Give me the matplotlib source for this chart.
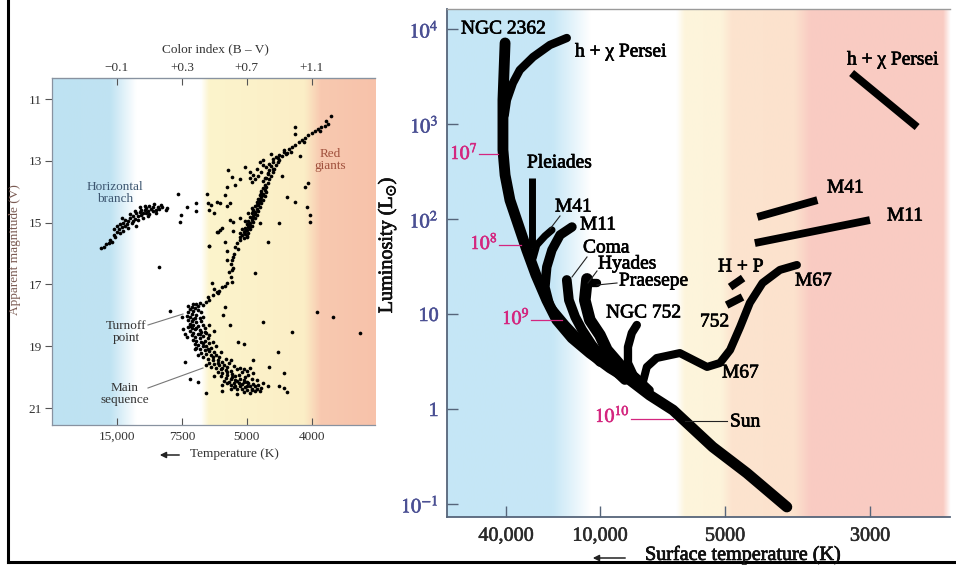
import numpy as np
import matplotlib
matplotlib.use('Agg')
import matplotlib.pyplot as plt
import matplotlib.patheffects as pe
from matplotlib.colors import to_rgb
from matplotlib.patches import FancyArrowPatch
from matplotlib.lines import Line2D

plt.rcParams['font.family'] = ['Liberation Serif', 'DejaVu Serif']
plt.rcParams['mathtext.fontset'] = 'stix'

# ---------------- Left panel data: globular cluster (B-V, V) ----------------
hb_pts = [(-0.20,15.82),(-0.18,15.78),(-0.17,15.70),(-0.15,15.65),(-0.14,15.55),(-0.13,15.62),
          (-0.12,15.40),(-0.11,15.48),(-0.10,15.30),(-0.09,15.20),(-0.08,15.35),(-0.08,15.05),
          (-0.07,15.15),(-0.06,15.00),(-0.06,15.28),(-0.05,15.10),(-0.05,14.92),(-0.04,15.05),
          (-0.03,14.95),(-0.03,15.18),(-0.02,14.85),(-0.01,15.00),(0.00,14.80),(0.00,14.95),
          (0.01,14.88),(0.02,14.70),(0.02,15.10),(0.03,14.78),(0.03,14.92),(0.04,14.65),
          (0.05,14.75),(0.05,14.58),(0.06,14.70),(0.06,14.85),(0.07,14.60),(0.08,14.52),
          (0.08,14.68),(0.09,14.62),(0.10,14.45),(0.10,14.72),(0.11,14.55),(0.12,14.50),
          (0.12,14.64),(0.13,14.40),(0.14,14.58),(0.15,14.48),(0.16,14.55),(0.17,14.42),
          (0.18,14.50),(0.20,14.60),(0.21,14.52),(-0.12,15.22),(-0.10,15.12),(-0.07,14.85),
          (0.04,14.50),(0.09,14.80),(0.14,14.70),(0.01,14.62),(0.07,14.45),(-0.02,14.72)]

rgb_pts = [(0.68,15.50),(0.70,15.45),(0.67,15.40),(0.69,15.38),(0.71,15.35),(0.68,15.30),(0.70,15.25),
           (0.72,15.22),(0.69,15.18),(0.71,15.15),(0.73,15.10),(0.70,15.05),(0.72,15.02),(0.74,14.98),
           (0.71,14.95),(0.73,14.90),(0.75,14.86),(0.72,14.82),(0.74,14.78),(0.76,14.75),(0.73,14.70),
           (0.75,14.66),(0.77,14.62),(0.74,14.58),(0.76,14.55),(0.78,14.50),(0.75,14.46),(0.77,14.42),
           (0.79,14.38),(0.76,14.34),(0.78,14.30),(0.80,14.26),(0.77,14.22),(0.79,14.18),(0.81,14.14),
           (0.78,14.10),(0.80,14.06),(0.82,14.02),(0.79,13.98),(0.81,13.94),(0.80,13.88),(0.82,13.84),
           (0.81,13.78),(0.83,13.72),(0.80,13.66),(0.84,13.60),(0.82,13.55),(0.85,13.48),(0.83,13.42),
           (0.86,13.36),(0.84,13.30),(0.87,13.25),(0.85,13.18),(0.88,13.12),(0.86,13.05),(0.90,12.98),
           (0.89,12.90),(0.92,12.85),(0.94,12.78),(0.93,12.70),(0.96,12.62),(0.98,12.55),(1.00,12.48),
           (1.02,12.40),(1.04,12.32),(1.06,12.25),(1.08,12.18),(1.10,12.10),(1.12,12.05),(1.14,11.98),
           (1.16,11.92),(1.18,11.86),(1.20,11.80),(1.22,11.55),(1.19,11.72),(1.15,12.05),(1.05,12.38),
           (0.97,12.70),(0.69,15.28),(0.71,15.08),(0.73,14.84),(0.74,14.64),(0.76,14.44),(0.78,14.24),
           (0.79,14.04),(0.70,15.42),(0.72,15.12),(0.75,14.72),(0.77,14.36),(0.80,14.12),(0.66,15.45),
           (0.67,15.20),(0.69,14.95),(0.71,14.70),(0.73,14.52)]

agb_pts = [(0.78,13.05),(0.80,13.15),(0.76,13.25),(0.79,13.35),(0.82,13.20),(0.84,13.10),(0.86,12.95),
           (0.83,13.40),(0.77,13.50),(0.74,13.45),(0.88,12.88),(0.90,12.80),(0.86,13.25),(0.81,13.55),
           (0.75,13.60),(0.73,13.70),(0.72,13.55),(0.85,12.78),(0.93,12.65),(0.95,12.75),(0.89,13.05),
           (0.80,12.98),(0.92,13.50)]

sgb_pts = [(0.41,17.60),(0.45,17.58),(0.47,17.50),(0.49,17.34),(0.52,17.28),(0.515,17.25),(0.485,16.95),
           (0.53,17.20),(0.55,17.10),(0.565,17.05),(0.577,16.95),(0.60,16.76),(0.61,16.92),(0.61,16.53),
           (0.615,16.47),(0.61,16.21),(0.615,16.10),(0.577,15.92),(0.64,15.67),(0.645,15.86),(0.657,15.56),
           (0.66,15.34),(0.615,15.27),(0.565,15.63),(0.47,15.76),(0.52,15.30),(0.55,15.18),(0.565,17.73),
           (0.553,17.99),(0.595,18.31),(0.43,17.68),(0.39,17.62),(0.46,17.40),(0.50,17.15),(0.59,16.60),
           (0.60,16.35),(0.62,16.00),(0.63,15.80)]

ms_pts = [(0.34,17.70),(0.36,17.72),(0.38,17.75),(0.35,17.80),(0.37,17.85),(0.40,17.82),(0.34,17.90),
          (0.36,17.95),(0.39,17.98),(0.33,18.02),(0.35,18.06),(0.38,18.10),(0.41,18.08),(0.34,18.15),
          (0.36,18.20),(0.39,18.22),(0.42,18.18),(0.35,18.28),(0.37,18.32),(0.40,18.35),(0.43,18.30),
          (0.34,18.38),(0.36,18.42),(0.38,18.45),(0.41,18.48),(0.44,18.42),(0.35,18.52),(0.37,18.56),
          (0.40,18.60),(0.42,18.55),(0.45,18.58),(0.36,18.65),(0.38,18.70),(0.41,18.72),(0.43,18.68),
          (0.46,18.75),(0.37,18.80),(0.39,18.84),(0.42,18.86),(0.44,18.82),(0.47,18.90),(0.38,18.92),
          (0.40,18.96),(0.43,19.00),(0.45,18.98),(0.48,19.05),(0.39,19.05),(0.41,19.10),(0.44,19.12),
          (0.47,19.15),(0.50,19.18),(0.42,19.22),(0.45,19.26),(0.48,19.30),(0.51,19.28),(0.53,19.35),
          (0.43,19.35),(0.46,19.40),(0.49,19.44),(0.52,19.46),(0.55,19.50),(0.47,19.55),(0.50,19.58),
          (0.53,19.62),(0.56,19.60),(0.58,19.66),(0.48,19.68),(0.51,19.72),(0.54,19.75),(0.57,19.78),
          (0.60,19.80),(0.52,19.85),(0.55,19.88),(0.58,19.92),(0.61,19.90),(0.63,19.95),(0.54,19.98),
          (0.57,20.02),(0.60,20.05),(0.63,20.08),(0.66,20.05),(0.56,20.12),(0.59,20.15),(0.62,20.18),
          (0.65,20.20),(0.68,20.16),(0.60,20.25),(0.63,20.28),(0.66,20.30),(0.69,20.32),(0.72,20.28),
          (0.64,20.38),(0.67,20.40),(0.70,20.42),(0.73,20.38),(0.76,20.40),(0.68,20.48),(0.72,20.50),
          (0.75,20.46),(0.78,20.44),(0.66,19.70),(0.68,19.75),(0.70,19.80),(0.72,19.72),(0.67,19.85),
          (0.71,19.92),(0.74,19.88),(0.69,20.00),(0.73,20.05),(0.76,20.10),(0.70,20.15),(0.74,20.22),
          (0.77,20.25),(0.79,20.35),(0.80,20.20),(0.62,19.65),(0.64,19.75),(0.59,19.55),(0.44,18.55),
          (0.47,18.65),(0.49,18.85),(0.51,19.00),(0.54,19.20),(0.57,19.40),(0.60,19.45),(0.31,18.45),
          (0.30,18.05),(0.32,18.60),(0.33,18.70),(0.38,19.10),(0.40,19.30),(0.45,19.60),(0.50,19.95),
          (0.55,20.25),(0.60,20.40),(0.35,20.05),(0.40,20.15),(0.45,20.50),(0.55,20.45),(0.64,20.55),
          (0.47,18.30),(0.50,18.50),(0.43,18.05),(0.37,17.65),(0.40,17.70),(0.42,17.90),
          (0.35,18.35),(0.37,18.12),(0.39,18.40),(0.41,18.62),(0.43,18.90),(0.46,19.08),(0.49,19.36),
          (0.52,19.55),(0.55,19.70),(0.58,19.85),(0.61,20.00),(0.64,20.12),(0.67,20.22),(0.70,20.30),
          (0.73,20.42),(0.65,19.92),(0.68,20.08),(0.71,20.20),(0.75,20.30),(0.62,20.32),(0.58,20.20)]

field_pts = [(0.275,14.07),(0.294,14.75),(0.33,14.50),(0.386,14.37),(0.386,14.62),(0.454,14.07),
             (0.46,14.37),(0.48,14.43),(0.50,14.69),(0.515,14.33),(0.565,14.10),(0.577,14.46),
             (0.515,15.30),(0.29,14.98),(0.16,16.44),(0.23,17.86),(0.32,19.50),(0.585,13.30),
             (0.61,13.52),(0.625,13.78),(0.577,13.85),(0.595,14.37),(0.534,14.37),(0.47,14.60),
             (0.595,14.92),(0.615,14.98),(0.657,14.86),(0.534,15.24),(0.466,15.76),(0.577,16.21),
             (0.75,16.63),(0.83,15.63),(0.78,15.00),(1.09,14.98),(1.09,14.75),(1.07,14.50),(1.00,14.33),
             (0.95,14.17),(1.06,13.85),(1.08,13.72),(0.90,15.00),(1.00,11.90),(1.00,12.13),(1.03,12.85),
             (1.13,17.90),(1.23,18.05),(1.40,18.57),(0.80,18.22),(0.98,18.54),(0.89,19.19),(0.93,19.87),
             (0.835,19.67),(0.645,18.86),(0.68,18.93),(0.74,19.45),(0.90,20.28),(0.93,20.35),(0.95,20.48),
             (0.83,20.28),(0.69,13.20),(0.72,13.35),(0.66,13.60)]

bv_ticks = [-0.1, 0.3, 0.7, 1.1]
bv_labels = ['\u22120.1', '+0.3', '+0.7', '+1.1']
temp_labels_left = ['15,000', '7500', '5000', '4000']
mag_ticks = [11, 13, 15, 17, 19, 21]

# ---------------- Right panel data: cluster sequences (T [K], L [Lsun]) ----------------
zams_T = [40500, 41800, 41800, 40500, 37700, 29400, 25700, 21900, 18900, 15100, 11600, 9460, 8470, 7590, 6670, 5350, 4630, 4020]
zams_L = [7130, 1790, 532, 290, 158, 47.2, 25.8, 14.0, 8.65, 5.59, 3.88, 2.71, 2.02, 1.40, 0.975, 0.398, 0.212, 0.093]

hchi_T = [16300, 20900, 26800, 32600, 36100, 39400, 40700]
hchi_L = [8040, 6790, 5070, 3700, 2700, 1790, 1245]

pleiades_T = [27300, 27300]
pleiades_L = [270, 50]

m41_T = [20300, 22500, 25400, 26800]
m41_L = [76.6, 66.2, 53.2, 38.8]

m11_T = [15100, 18000, 20300, 21900, 22500, 20900, 16700, 13040, 10000]
m11_L = [82.4, 67.9, 47.2, 31.2, 19.2, 11.9, 7.66, 4.95, 3.12]

coma_T = [16300, 15800, 14400, 13000, 11250, 9680, 8710]
coma_L = [22.8, 14.0, 9.29, 6.79, 4.72, 3.12, 2.02]

hyades_T = [12100, 12500, 11600, 10000, 9620, 8950, 8020]
hyades_L = [23.4, 14.0, 8.65, 6.0, 4.18, 2.90, 1.88]

praesepe_T = [12100, 10400]
praesepe_L = [21.2, 21.2]

ngc752_T = [8150, 8380, 8560, 8560, 8300, 7590]
ngc752_L = [7.66, 6.31, 4.49, 3.05, 2.28, 1.58]

m67_T = [7890, 7710, 7300, 6420, 5520, 5140, 4910, 4740, 4580, 4380, 4120, 3880]
m67_L = [1.88, 2.77, 3.44, 3.88, 2.77, 3.05, 4.18, 7.3, 13.1, 21.2, 29.1, 32.8]

hp_giant_T = [4910, 4690]
hp_giant_L = [19.2, 23.9]
n752_giant_T = [4970, 4700]
n752_giant_L = [12.4, 15.1]
m41_giant_T = [4460, 3610]
m41_giant_L = [105, 158]
m11_giant_T = [4500, 3000]
m11_giant_L = [55.8, 97.5]
hchi_giant_T = [3200, 2540]
hchi_giant_L = [3440, 929]

lum_ticks = [0.1, 1, 10, 100, 1000, 10000]
lum_labels = ['$10^{-1}$', '1', '10', '$10^{2}$', '$10^{3}$', '$10^{4}$']
temp_ticks = [40000, 10000, 5000, 3000]
temp_labels = ['40,000', '10,000', '5000', '3000']

# ---------------- Figure ----------------
W, H = 956, 565
fig = plt.figure(figsize=(W / 100, H / 100), dpi=100)
bold_fx = [pe.withStroke(linewidth=0.5, foreground='black')]


def rect(x0, y0, x1, y1):
    return [x0 / W, 1 - y1 / H, (x1 - x0) / W, (y1 - y0) / H]


def ftext(px, py, s, **kw):
    kw.setdefault('va', 'center')
    return fig.text(px / W, 1 - py / H, s, **kw)


def fline(x1, y1, x2, y2, **kw):
    fig.add_artist(Line2D([x1 / W, x2 / W], [1 - y1 / H, 1 - y2 / H], transform=fig.transFigure, **kw))


def farrow(x1, y1, x2, y2):
    fig.add_artist(FancyArrowPatch((x1 / W, 1 - y1 / H), (x2 / W, 1 - y2 / H), transform=fig.transFigure,
                                   arrowstyle='-|>', mutation_scale=9, lw=1.1, color='#222222'))


def gradient(rct, stops):
    bg = fig.add_axes(rct, zorder=0)
    xs = np.linspace(0, 1, 800)
    fr = [s[0] for s in stops]
    cols = [to_rgb(s[1]) for s in stops]
    img = np.stack([np.interp(xs, fr, [c[i] for c in cols]) for i in range(3)], axis=-1)[None, :, :]
    bg.imshow(img, aspect='auto', extent=(0, 1, 0, 1), interpolation='bilinear')
    bg.set_axis_off()


# ---- Left panel ----
rL = rect(52, 78, 375, 425)
gradient(rL, [(0, '#bee2f2'), (0.18, '#c0e3f2'), (0.26, '#ffffff'), (0.46, '#ffffff'),
              (0.485, '#fcf4cc'), (0.78, '#fbeec6'), (0.83, '#f8c9b0'), (1.0, '#f7c2aa')])
axL = fig.add_axes(rL, zorder=1)
axL.set_facecolor('none')
for grp in (hb_pts, rgb_pts, agb_pts, sgb_pts, ms_pts, field_pts):
    arr = np.array(grp)
    axL.scatter(arr[:, 0], arr[:, 1], s=7, c='black', linewidths=0, zorder=3)
axL.set_xlim(-0.5, 1.49)
axL.set_ylim(21.55, 10.32)
axL.set_yticks(mag_ticks)
axL.set_yticklabels([str(m) for m in mag_ticks])
axL.set_xticks(bv_ticks)
axL.set_xticklabels(temp_labels_left)
axL.tick_params(axis='x', direction='in', length=5, width=0.8, colors='#555555', labelcolor='#333333',
                labelsize=9.5, pad=4)
axL.tick_params(axis='y', direction='out', length=5, width=0.8, colors='#555555', labelcolor='#333333',
                labelsize=9.5, pad=2)
for sp in ('left', 'top', 'bottom'):
    axL.spines[sp].set_color('#8892a0')
    axL.spines[sp].set_linewidth(0.9)
axL.spines['right'].set_visible(False)
secL = axL.secondary_xaxis('top')
secL.set_xticks(bv_ticks)
secL.set_xticklabels(bv_labels)
secL.tick_params(direction='in', length=5, width=0.8, colors='#555555', labelcolor='#333333',
                 labelsize=9.5, pad=3)
secL.spines['top'].set_color('#8892a0')

ftext(215, 49, 'Color index (B \u2013 V)', ha='center', fontsize=9.5, color='#333333')
farrow(182, 455, 157, 455)
ftext(190, 454, 'Temperature (K)', ha='left', fontsize=9.5, color='#333333')
ftext(15, 250, 'Apparent magnitude (V)', ha='center', rotation=90, fontsize=9.5, color='#7a5a52')
ftext(115, 193, 'Horizontal\nbranch', ha='center', fontsize=9.5, color='#3d5670', linespacing=1.0)
ftext(330, 160, 'Red\ngiants', ha='center', fontsize=9.5, color='#a0503c', linespacing=1.0)
ftext(126, 332, 'Turnoff\npoint', ha='center', fontsize=9.5, color='#333333', linespacing=1.0)
ftext(125, 394, 'Main\nsequence', ha='center', fontsize=9.5, color='#333333', linespacing=1.0)
fline(148, 325, 183, 314, color='#777777', lw=0.8)
fline(148, 388, 203, 368, color='#777777', lw=0.8)

# ---- Right panel ----
rR = rect(447, 9, 950, 517)
gradient(rR, [(0, '#c5e6f6'), (0.21, '#c7e7f6'), (0.285, '#ffffff'), (0.455, '#ffffff'),
              (0.472, '#fdf5dc'), (0.545, '#fdf3da'), (0.565, '#fce4cf'), (0.69, '#fce2cd'),
              (0.72, '#f9ccc3'), (0.985, '#f9cbc2'), (1.0, '#ffffff')])
axR = fig.add_axes(rR, zorder=1)
axR.set_facecolor('none')

U_anchor = [-5.5, -4.60206, -4.0, -3.69897, -3.47712, -3.0]
P_anchor = [366.0, 506.0, 600.0, 725.0, 870.0, 1181.5]
P_neg = [-p for p in P_anchor][::-1]
U_neg = U_anchor[::-1]


def fwd(t):
    # increasing in T: minus the horizontal position
    with np.errstate(divide='ignore', invalid='ignore'):
        return -np.interp(-np.log10(np.asarray(t, dtype=float)), U_anchor, P_anchor)


def inv(p):
    return 10 ** (-np.interp(np.asarray(p, dtype=float), P_neg, U_neg))


axR.set_yscale('log')
axR.set_xscale('function', functions=(fwd, inv))

kw = dict(color='black', solid_capstyle='round', solid_joinstyle='round')
axR.plot(zams_T, zams_L, lw=7.8, **kw)
axR.plot(hchi_T, hchi_L, lw=6.0, **kw)
axR.plot(pleiades_T, pleiades_L, lw=5.0, color='black', solid_capstyle='butt')
axR.plot(m41_T, m41_L, lw=5.2, **kw)
axR.plot(m11_T, m11_L, lw=6.8, **kw)
axR.plot(coma_T, coma_L, lw=7.0, **kw)
axR.plot(hyades_T, hyades_L, lw=8.4, **kw)
axR.plot(praesepe_T, praesepe_L, lw=6.0, **kw)
axR.plot(ngc752_T, ngc752_L, lw=6.0, **kw)
axR.plot(m67_T, m67_L, lw=5.8, **kw)
for gT, gL in ((hp_giant_T, hp_giant_L), (n752_giant_T, n752_giant_L), (m41_giant_T, m41_giant_L),
               (m11_giant_T, m11_giant_L), (hchi_giant_T, hchi_giant_L)):
    axR.plot(gT, gL, lw=5.6, color='black', solid_capstyle='butt')

axR.set_xlim(95500, 2262)
axR.set_ylim(10 ** -1.137, 10 ** 4.2105)
axR.set_yticks(lum_ticks)
axR.set_yticklabels(lum_labels)
axR.yaxis.set_minor_locator(matplotlib.ticker.NullLocator())
axR.set_xticks(temp_ticks)
axR.set_xticklabels(temp_labels)
axR.xaxis.set_minor_locator(matplotlib.ticker.NullLocator())
axR.tick_params(axis='y', direction='in', length=8, width=1.0, colors='#56657a', labelcolor='#4a4f93',
                labelsize=14.5, pad=6)
axR.tick_params(axis='x', direction='in', length=8, width=1.0, colors='#56657a', labelcolor='#2a2a2a',
                labelsize=14.5, pad=7)
for sp in ('left', 'bottom'):
    axR.spines[sp].set_color('#56657a')
    axR.spines[sp].set_linewidth(1.3)
axR.spines['top'].set_color('#9a9a9a')
axR.spines['top'].set_linewidth(1.0)
axR.spines['right'].set_visible(False)
for t in axR.get_xticklabels():
    t.set_path_effects([pe.withStroke(linewidth=0.4, foreground='#2a2a2a')])
for t in axR.get_yticklabels():
    t.set_path_effects([pe.withStroke(linewidth=0.4, foreground='#4a4f93')])

ftext(387, 245, 'Luminosity (L$_{\\odot}$)', ha='center', rotation=90, fontsize=14.5, color='#111111',
      path_effects=bold_fx)
farrow(628, 558, 590, 558)
ftext(645, 555, 'Surface temperature (K)', ha='left', fontsize=14.5, color='#111111', path_effects=bold_fx)

lab = dict(ha='left', fontsize=14, color='black', path_effects=bold_fx)
ftext(461, 29, 'NGC 2362', **lab)
ftext(575, 52, 'h + \u03c7 Persei', **lab)
ftext(527, 163, 'Pleiades', **lab)
ftext(555, 207, 'M41', **lab)
ftext(580, 225, 'M11', **lab)
ftext(583, 248, 'Coma', **lab)
ftext(598, 264, 'Hyades', **lab)
ftext(619, 281, 'Praesepe', **lab)
ftext(606, 313, 'NGC 752', **lab)
ftext(722, 373, 'M67', **lab)
ftext(730, 422, 'Sun', **lab)
ftext(718, 267, 'H + P', **lab)
ftext(795, 281, 'M67', **lab)
ftext(700, 322, '752', **lab)
ftext(827, 188, 'M41', **lab)
ftext(887, 216, 'M11', **lab)
ftext(847, 60, 'h + \u03c7 Persei', **lab)

fline(560, 216, 550, 229, color='#222222', lw=0.8)
fline(587, 257, 572, 277, color='#222222', lw=0.8)
fline(597, 271, 588, 283, color='#222222', lw=0.8)
fline(617, 283, 597, 285, color='#222222', lw=0.8)
fline(685, 421, 727, 421, color='#222222', lw=0.8)

mag = '#d4267f'
mag_fx = [pe.withStroke(linewidth=0.4, foreground=mag)]
ftext(478, 152, '$10^{7}$', ha='right', fontsize=14, color=mag, path_effects=mag_fx)
fline(479, 154, 498, 154, color=mag, lw=0.9)
ftext(498, 242, '$10^{8}$', ha='right', fontsize=14, color=mag, path_effects=mag_fx)
fline(499, 245, 521, 245, color=mag, lw=0.9)
ftext(530, 317, '$10^{9}$', ha='right', fontsize=14, color=mag, path_effects=mag_fx)
fline(531, 320, 562, 320, color=mag, lw=0.9)
ftext(630, 415, '$10^{10}$', ha='right', fontsize=14, color=mag, path_effects=mag_fx)
fline(631, 419, 673, 419, color=mag, lw=0.9)

# outer frame lines
fline(8, 0, 8, 562, color='black', lw=2.2)
fline(8, 562, 956, 562, color='black', lw=2.2)

fig.savefig('out.png', dpi=100)
